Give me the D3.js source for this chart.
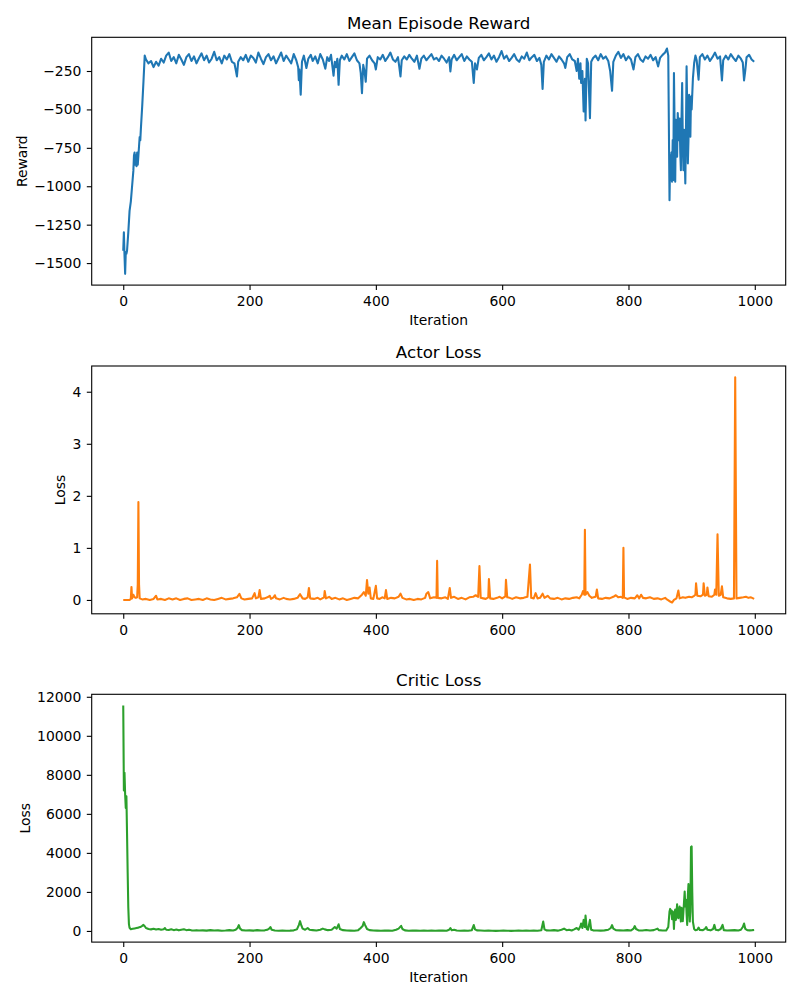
<!DOCTYPE html>
<html lang="en">
  <head>
    <meta charset="UTF-8" />
    <title>training curves</title>
    <style>
      body { margin: 0; background: #fff; }
      text { font-family: "DejaVu Sans", sans-serif; fill: #000; }
    </style>
  </head>
  <body>
    <svg width="800" height="1000" id="svg"></svg>
    <script src="https://cdn.jsdelivr.net/npm/d3@7/dist/d3.min.js"></script>
    <script>
      // [iteration, value] pairs
      const rewardPoints = [
        [0,-1420],[1,-1300],[2,-1450],[3,-1570],[4,-1430],[5,-1440],[6,-1420],[8,-1300],[10,-1160],[12,-1100],
        [14,-1000],[16,-900],[17,-800],[18,-780],[19,-860],[20,-800],[21,-870],[22,-780],[23,-860],[24,-800],
        [25,-740],[26,-680],[27,-700],[28,-620],[30,-480],[32,-320],[34,-150],[36,-175],[40,-200],[44,-185],
        [48,-225],[52,-190],[56,-215],[60,-170],[64,-195],[68,-150],[72,-130],[76,-185],[80,-160],[84,-200],
        [88,-145],[92,-175],[96,-210],[100,-160],[104,-140],[108,-185],[112,-155],[116,-200],[120,-165],[124,-135],
        [128,-180],[132,-150],[136,-195],[140,-170],[144,-125],[148,-180],[152,-160],[156,-200],[160,-150],[164,-175],
        [168,-140],[172,-190],[176,-200],[178,-240],[180,-285],[182,-190],[186,-160],[190,-180],[194,-145],[198,-190],
        [202,-150],[206,-165],[210,-195],[214,-130],[218,-170],[222,-205],[226,-160],[230,-140],[234,-180],[238,-155],
        [242,-200],[246,-165],[250,-130],[254,-185],[258,-150],[262,-175],[266,-200],[270,-140],[274,-180],[277,-225],
        [278,-310],[279,-240],[281,-405],[283,-190],[286,-150],[290,-230],[293,-170],[297,-145],[300,-185],[304,-155],
        [308,-200],[312,-140],[316,-175],[320,-235],[323,-160],[326,-185],[329,-145],[333,-280],[335,-190],[337,-225],
        [339,-170],[341,-340],[343,-180],[346,-150],[350,-175],[354,-140],[358,-185],[362,-160],[366,-135],[370,-180],
        [374,-200],[376,-260],[378,-394],[380,-210],[382,-250],[384,-320],[386,-170],[390,-150],[394,-180],[398,-200],
        [400,-240],[403,-160],[407,-175],[411,-145],[415,-185],[419,-160],[423,-130],[427,-175],[431,-190],[435,-160],
        [437,-220],[439,-285],[441,-180],[445,-155],[449,-175],[453,-145],[457,-170],[461,-190],[465,-150],[469,-235],
        [472,-170],[476,-150],[480,-180],[484,-160],[488,-140],[492,-175],[496,-165],[500,-185],[504,-150],[508,-170],
        [512,-195],[516,-160],[518,-253],[520,-175],[524,-145],[528,-180],[532,-160],[536,-140],[540,-185],[544,-155],
        [548,-175],[552,-190],[555,-328],[557,-200],[560,-240],[563,-165],[567,-145],[571,-180],[575,-160],[579,-135],
        [583,-175],[587,-150],[591,-190],[595,-160],[599,-120],[603,-170],[607,-150],[611,-185],[615,-165],[619,-140],
        [623,-175],[627,-190],[631,-155],[635,-170],[639,-130],[643,-180],[647,-160],[651,-145],[655,-185],[659,-165],
        [662,-210],[664,-367],[666,-190],[670,-150],[674,-175],[678,-140],[682,-165],[686,-190],[690,-155],[694,-175],
        [698,-200],[700,-230],[703,-160],[707,-140],[711,-175],[715,-185],[718,-250],[720,-170],[722,-300],[724,-200],
        [725,-328],[727,-250],[729,-514],[731,-300],[732,-572],[734,-170],[736,-200],[739,-557],[741,-190],[744,-165],
        [748,-150],[752,-180],[756,-140],[760,-170],[764,-155],[768,-185],[771,-250],[774,-379],[776,-190],[780,-150],
        [784,-125],[788,-165],[792,-140],[796,-180],[800,-155],[804,-175],[808,-240],[811,-160],[815,-140],[819,-175],
        [823,-190],[827,-155],[831,-170],[835,-145],[839,-180],[843,-160],[847,-220],[850,-165],[854,-145],[858,-130],
        [861,-104],[863,-150],[865,-1091],[866,-800],[867,-960],[868,-780],[869,-970],[870,-700],[871,-960],[872,-263],
        [873,-600],[874,-971],[875,-568],[876,-700],[877,-808],[878,-524],[879,-620],[880,-700],[881,-560],[882,-780],
        [883,-895],[884,-560],[885,-328],[886,-700],[887,-895],[888,-633],[889,-800],[890,-982],[891,-650],[892,-220],
        [893,-500],[894,-851],[895,-700],[896,-405],[897,-600],[898,-677],[899,-416],[900,-500],[902,-300],[904,-198],
        [906,-150],[908,-180],[911,-307],[913,-160],[917,-140],[921,-175],[925,-150],[929,-185],[933,-160],[937,-130],
        [941,-170],[945,-155],[948,-311],[950,-180],[954,-150],[958,-175],[962,-140],[966,-165],[970,-185],[974,-150],
        [978,-170],[981,-195],[983,-311],[985,-245],[987,-160],[991,-145],[995,-175],[999,-190]
      ];

      const actorPoints = [
        [0,0.0],[5,0.0],[10,0.0],[12,0.02],[13,0.25],[14,0.03],[16,0.1],[18,0.05],[20,0.04],[22,0.05],
        [23,0.3],[24,1.88],[25,0.3],[26,0.03],[30,0.01],[36,0.02],[42,0.0],[48,0.02],[52,0.08],[54,0.01],
        [60,0.02],[66,0.0],[72,0.03],[78,0.01],[84,0.03],[90,0.0],[96,0.02],[102,0.03],[108,0.0],[114,0.01],
        [120,0.02],[126,0.0],[132,0.03],[138,0.01],[144,0.0],[150,0.02],[156,0.04],[162,0.01],[168,0.02],[174,0.03],
        [180,0.05],[184,0.115],[187,0.03],[192,0.01],[198,0.02],[204,0.03],[208,0.13],[210,0.03],[214,0.05],[216,0.19],
        [218,0.02],[224,0.03],[230,0.06],[232,0.08],[234,0.02],[238,0.05],[240,0.09],[242,0.03],[248,0.01],[254,0.04],
        [258,0.02],[264,0.01],[270,0.02],[276,0.04],[280,0.11],[284,0.03],[288,0.02],[292,0.05],[294,0.23],[296,0.03],
        [302,0.02],[308,0.04],[312,0.01],[318,0.05],[319,0.17],[321,0.03],[326,0.06],[330,0.02],[336,0.04],[342,0.01],
        [348,0.03],[354,0.0],[360,0.02],[366,0.04],[372,0.03],[378,0.1],[381,0.15],[384,0.08],[386,0.38],[388,0.12],
        [390,0.24],[392,0.03],[396,0.02],[400,0.27],[402,0.03],[406,0.02],[410,0.05],[414,0.03],[416,0.19],[418,0.02],
        [424,0.04],[430,0.03],[436,0.06],[439,0.12],[442,0.04],[448,0.01],[454,0.02],[460,0.0],[466,0.02],[472,0.01],
        [478,0.04],[480,0.12],[483,0.15],[486,0.03],[492,0.05],[496,0.04],[497,0.75],[498,0.04],[504,0.03],[510,0.05],
        [514,0.02],[517,0.23],[519,0.04],[524,0.06],[530,0.02],[536,0.04],[542,0.01],[548,0.05],[554,0.06],[558,0.09],
        [562,0.06],[564,0.65],[566,0.04],[570,0.03],[574,0.02],[578,0.05],[579,0.40],[581,0.03],[586,0.02],[592,0.04],
        [596,0.06],[600,0.03],[605,0.07],[606,0.385],[608,0.05],[612,0.04],[616,0.02],[622,0.05],[628,0.03],[634,0.04],
        [640,0.06],[644,0.68],[646,0.04],[650,0.03],[653,0.13],[656,0.03],[660,0.04],[664,0.12],[667,0.04],[672,0.08],
        [676,0.03],[682,0.02],[688,0.04],[694,0.01],[700,0.03],[706,0.02],[712,0.04],[718,0.05],[722,0.03],[726,0.1],
        [728,0.17],[730,0.1],[731,1.35],[732,0.1],[735,0.15],[738,0.08],[742,0.04],[748,0.06],[750,0.2],[752,0.03],
        [758,0.02],[764,0.04],[770,0.03],[776,0.06],[780,0.09],[784,0.05],[788,0.06],[791,0.04],[792,1.0],[793,0.05],
        [798,0.02],[804,0.04],[810,0.03],[814,0.09],[817,0.03],[820,0.1],[823,0.04],[828,0.03],[834,0.05],[840,0.02],
        [846,0.03],[852,0.01],[858,0.04],[862,0.0],[866,-0.03],[869,-0.05],[872,0.0],[876,0.03],[879,0.18],[881,0.03],
        [886,0.05],[890,0.04],[896,0.06],[900,0.05],[904,0.08],[906,0.1],[907,0.32],[909,0.08],[914,0.07],[918,0.1],
        [919,0.32],[921,0.08],[924,0.1],[925,0.24],[927,0.07],[932,0.06],[936,0.1],[937,0.2],[939,0.1],[941,1.26],
        [943,0.08],[946,0.1],[948,0.26],[950,0.05],[956,0.03],[962,0.02],[967,0.03],[969,4.278],[971,0.03],[976,0.04],
        [982,0.05],[986,0.06],[990,0.04],[994,0.05],[999,0.02]
      ];

      const criticPoints = [
        [0,11550],[1,7200],[2,8100],[3,7000],[4,6300],[5,6900],[6,5000],[7,3000],[8,1200],[9,350],
        [10,160],[12,90],[15,110],[18,130],[21,150],[24,170],[27,200],[30,260],[32,310],[34,240],
        [36,150],[40,100],[44,80],[48,110],[52,70],[56,100],[60,60],[64,90],[66,150],[68,60],
        [72,50],[76,90],[80,40],[84,70],[88,30],[92,60],[96,90],[100,40],[104,60],[108,30],
        [112,20],[116,40],[120,20],[126,30],[132,15],[138,40],[144,20],[150,30],[156,10],[162,20],
        [168,40],[174,20],[178,60],[181,150],[183,300],[185,120],[188,40],[194,20],[200,30],[206,15],
        [212,40],[218,20],[224,30],[228,60],[231,120],[233,200],[235,60],[240,20],[246,10],[252,20],
        [258,10],[264,15],[270,30],[275,80],[278,300],[280,500],[282,280],[284,120],[288,60],[292,150],
        [295,60],[300,40],[306,20],[312,60],[316,120],[319,80],[324,40],[330,60],[335,200],[338,120],
        [341,340],[343,100],[348,40],[354,20],[360,15],[366,10],[372,40],[376,150],[379,250],[381,450],
        [383,300],[386,100],[390,40],[396,20],[402,15],[408,10],[414,20],[420,15],[426,10],[432,60],
        [436,120],[440,260],[442,100],[446,30],[452,10],[458,20],[464,15],[470,10],[476,20],[482,10],
        [488,15],[494,10],[500,20],[506,15],[512,10],[516,60],[518,150],[520,40],[524,60],[528,20],
        [534,10],[540,15],[546,10],[552,40],[555,300],[557,80],[560,30],[566,20],[572,10],[578,15],
        [584,10],[590,5],[596,10],[602,15],[608,10],[614,5],[620,10],[626,15],[632,10],[638,20],
        [644,10],[650,15],[656,10],[662,40],[665,480],[667,80],[670,30],[676,20],[682,40],[688,15],
        [694,60],[698,120],[702,40],[706,60],[710,20],[714,80],[718,150],[721,60],[724,250],[725,380],
        [727,150],[729,565],[731,200],[732,790],[734,100],[736,60],[739,565],[741,60],[744,30],[750,20],
        [756,15],[762,30],[768,60],[772,150],[774,300],[776,120],[780,40],[786,30],[792,20],[798,40],
        [804,20],[808,120],[810,250],[812,100],[816,30],[822,20],[828,50],[834,20],[840,40],[846,120],
        [848,40],[854,20],[860,30],[863,200],[865,1000],[866,1130],[867,900],[868,1050],[869,600],[870,1000],
        [871,800],[872,100],[873,900],[874,1100],[875,565],[876,900],[877,1370],[878,700],[879,650],[880,1100],
        [881,1250],[882,800],[883,480],[884,1180],[885,900],[886,500],[887,1000],[888,1500],[889,2020],[890,1250],
        [891,1600],[892,900],[893,310],[894,1800],[895,2400],[896,1300],[897,480],[898,1000],[899,4300],[900,4330],
        [901,2000],[902,480],[904,100],[906,40],[909,60],[911,170],[913,50],[918,40],[921,100],[923,200],
        [925,60],[930,30],[934,100],[936,310],[938,60],[942,30],[946,100],[949,310],[951,40],[956,20],
        [962,30],[968,40],[974,20],[978,60],[981,200],[983,380],[985,100],[988,40],[992,30],[996,40],[999,50]
      ];

      const xTicks = [0, 200, 400, 600, 800, 1000];
      const rewardTicks = [-1500, -1250, -1000, -750, -500, -250];
      const actorTicks = [0, 1, 2, 3, 4];
      const criticTicks = [0, 2000, 4000, 6000, 8000, 10000, 12000];

      const svg = d3.select("#svg");
      const left = 91.7;
      const plotWidth = 694;
      const plotHeight = 247.8;
      const fmt = d3.format("d");

      const panels = [
        { title: "Mean Episode Reward", data: rewardPoints, color: "#1f77b4", ticks: rewardTicks, ylabel: "Reward", xlabel: true, top: 37.3 },
        { title: "Actor Loss", data: actorPoints, color: "#ff7f0e", ticks: actorTicks, ylabel: "Loss", xlabel: false, top: 366 },
        { title: "Critic Loss", data: criticPoints, color: "#2ca02c", ticks: criticTicks, ylabel: "Loss", xlabel: true, top: 694.3 },
      ];

      // matplotlib style 5% margins around data
      const x = d3.scaleLinear().domain([-49.95, 1048.95]).range([0, plotWidth]);

      panels.forEach((p) => {
        const g = svg.append("g").attr("transform", `translate(${left},${p.top})`);
        const [lo, hi] = d3.extent(p.data, (d) => d[1]);
        const pad = (hi - lo) * 0.05;
        const y = d3.scaleLinear().domain([lo - pad, hi + pad]).range([plotHeight, 0]);

        g.append("path")
          .datum(p.data)
          .attr("fill", "none")
          .attr("stroke", p.color)
          .attr("stroke-width", 2.08)
          .attr("stroke-linejoin", "round")
          .attr("d", d3.line().x((d) => x(d[0])).y((d) => y(d[1])));

        const xAxis = g.append("g")
          .attr("transform", `translate(0,${plotHeight})`)
          .call(d3.axisBottom(x).tickValues(xTicks).tickFormat(fmt).tickSize(4.9).tickPadding(6.6).tickSizeOuter(0));
        const yAxis = g.append("g")
          .call(d3.axisLeft(y).tickValues(p.ticks).tickFormat(fmt).tickSize(4.9).tickPadding(5.5).tickSizeOuter(0));

        [xAxis, yAxis].forEach((a) => {
          a.attr("font-family", null).attr("font-size", null);
          a.select(".domain").remove();
          a.selectAll("line").attr("stroke", "#000").attr("stroke-width", 1.1);
          a.selectAll("text").style("font-size", "13.9px");
        });

        g.append("rect")
          .attr("width", plotWidth)
          .attr("height", plotHeight)
          .attr("fill", "none")
          .attr("stroke", "#000")
          .attr("stroke-width", 1.1);

        g.append("text")
          .attr("x", plotWidth / 2)
          .attr("y", -8.3)
          .attr("text-anchor", "middle")
          .style("font-size", "16.67px")
          .text(p.title);

        if (p.xlabel) {
          g.append("text")
            .attr("x", plotWidth / 2)
            .attr("y", plotHeight + 40.4)
            .attr("text-anchor", "middle")
            .style("font-size", "13.9px")
            .text("Iteration");
        }

        // ylabel sits left of the widest tick label
        let widest = 0;
        yAxis.selectAll("text").each(function () {
          widest = Math.max(widest, this.getComputedTextLength());
        });
        const labelX = -(4.9 + 5.5 + widest + 7);
        g.append("text")
          .attr("transform", `translate(${labelX},${plotHeight / 2}) rotate(-90)`)
          .attr("text-anchor", "middle")
          .style("font-size", "13.9px")
          .text(p.ylabel);
      });
    </script>
  </body>
</html>
